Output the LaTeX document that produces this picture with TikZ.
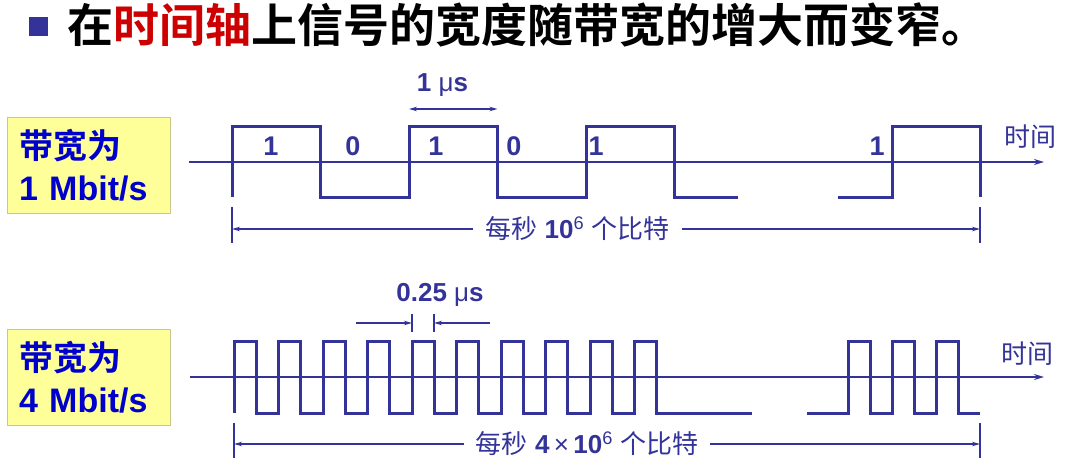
\documentclass[tikz,border=0pt]{standalone}
\usepackage{fontspec}
\setmainfont{Liberation Sans}
\newfontfamily\cjk{Noto Sans CJK SC}[BoldFont={Noto Sans CJK SC Bold}]
\usetikzlibrary{arrows.meta}
\definecolor{wavecol}{HTML}{333399}
\definecolor{boxtext}{HTML}{0000CC}
\definecolor{boxfill}{HTML}{FFFF99}
\definecolor{boxline}{HTML}{C8C88C}
\definecolor{titlered}{HTML}{CC0000}

\begin{document}
\begin{tikzpicture}[x=1pt, y=-1pt,
    wave/.style={wavecol, line width=3pt},
    axis/.style={wavecol, line width=1.6pt, -{Stealth[length=10pt,width=6pt]}},
    dim/.style={wavecol, line width=1.3pt, -{Stealth[length=8pt,width=4.5pt]}},
    dimboth/.style={wavecol, line width=1.3pt, {Stealth[length=8pt,width=4.5pt]}-{Stealth[length=8pt,width=4.5pt]}},
    tick/.style={wavecol, line width=1.6pt},
    bit/.style={wavecol, font=\fontsize{27}{27}\selectfont\bfseries, inner sep=0pt},
    lbl/.style={wavecol, font=\fontsize{26}{26}\selectfont, inner sep=0pt},
    bwbox/.style={draw=boxline, line width=1pt, fill=boxfill, minimum width=163pt, minimum height=96pt,
        text width=139pt, align=left, inner sep=12pt, text=boxtext, font=\fontsize{34}{42}\selectfont\bfseries}]
    \useasboundingbox (0,0) rectangle (1073,474);

    \node[fill=wavecol, minimum size=19pt, inner sep=0pt] (bullet) at (38.5,26) {};
    \node[anchor=west, inner sep=0pt, font=\fontsize{46}{46}\selectfont\cjk\bfseries] (title) at (67,25)
        {在\textcolor{titlered}{时间轴}上信号的宽度随带宽的增大而变窄。};

    % 1 Mbit/s
    \node[bwbox] (bw1) at (88.5,165.5) {{\cjk 带宽为}\\1 Mbit/s};
    \coordinate (ax1s) at (189,162);
    \coordinate (ax1e) at (1044,162);
    \draw[axis] (ax1s) -- (ax1e);
    \node[lbl] (time1) at (1030,137) {\cjk 时间};
    \draw[wave] (232,197) -- (232,126) -- (320.5,126) -- (320.5,197) -- (409,197) -- (409,126)
        -- (497.5,126) -- (497.5,197) -- (586,197) -- (586,126) -- (674.5,126) -- (674.5,197) -- (738,197);
    \draw[wave] (837.5,197) -- (892,197) -- (892,126) -- (980,126) -- (980,197);
    \node[bit] (b1) at (271,146) {1};
    \node[bit] (b2) at (353,146) {0};
    \node[bit] (b3) at (436,146) {1};
    \node[bit] (b4) at (514,146) {0};
    \node[bit] (b5) at (596,146) {1};
    \node[bit] (b6) at (877,146) {1};
    \coordinate (us1a) at (409,109);
    \coordinate (us1b) at (497.5,109);
    \draw[dimboth] (us1a) -- (us1b);
    \node[lbl] (us1) at (442.5,85) {\textbf{1 }μ\textbf{s}};
    \draw[tick] (232,207) -- (232,243);
    \draw[tick] (980,207) -- (980,243);
    \coordinate (c1l) at (232,229);
    \coordinate (c1r) at (980,229);
    \node[lbl, inner sep=12pt] (cnt1) at (577.5,229) {{\cjk 每秒} \textbf{10}\textsuperscript{6} {\cjk 个比特}};
    \draw[dim] (cnt1.west) -- (c1l);
    \draw[dim] (cnt1.east) -- (c1r);

    % 4 Mbit/s
    \node[bwbox] (bw4) at (88.5,377.5) {{\cjk 带宽为}\\4 Mbit/s};
    \coordinate (ax4s) at (190,377);
    \coordinate (ax4e) at (1044,377);
    \draw[axis] (ax4s) -- (ax4e);
    \node[lbl] (time4) at (1027,354) {\cjk 时间};
    \draw[wave] (234,413) \foreach \i in {0,...,9} {
        -- (234+44.5*\i,341) -- (256+44.5*\i,341) -- (256+44.5*\i,413) -- (278.5+44.5*\i,413)} -- (752,413);
    \draw[wave] (807,413) \foreach \i in {0,1,2} {
        -- (848.5+44.2*\i,413) -- (848.5+44.2*\i,341) -- (870.5+44.2*\i,341) -- (870.5+44.2*\i,413)} -- (980,413);
    \draw[tick] (412,314) -- (412,332);
    \draw[tick] (434,314) -- (434,332);
    \coordinate (q1a) at (356,323);
    \coordinate (q1b) at (412,323);
    \coordinate (q2a) at (490,323);
    \coordinate (q2b) at (434,323);
    \draw[dim] (q1a) -- (q1b);
    \draw[dim] (q2a) -- (q2b);
    \node[lbl] (us4) at (440,295) {\textbf{0.25 }μ\textbf{s}};
    \draw[tick] (234,423) -- (234,458);
    \draw[tick] (980,423) -- (980,458);
    \coordinate (c4l) at (234,444);
    \coordinate (c4r) at (980,444);
    \node[lbl, inner sep=12pt] (cnt4) at (587,444) {{\cjk 每秒} \textbf{4}\,×\,\textbf{10}\textsuperscript{6} {\cjk 个比特}};
    \draw[dim] (cnt4.west) -- (c4l);
    \draw[dim] (cnt4.east) -- (c4r);
\end{tikzpicture}
\end{document}
